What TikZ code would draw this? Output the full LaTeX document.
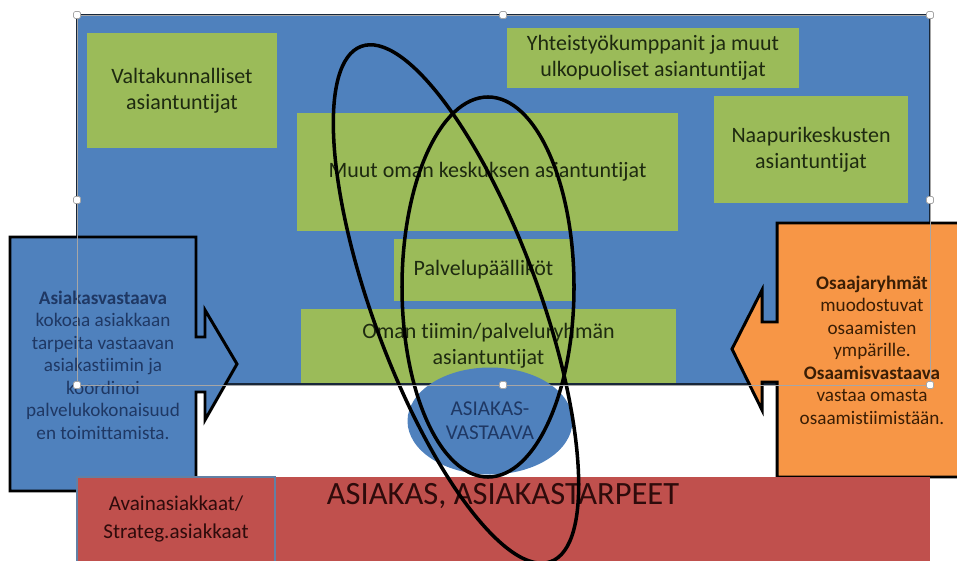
\documentclass[tikz,border=0pt]{standalone}
\usepackage{fontspec}
\setmainfont{Carlito}[Ligatures=NoCommon]
\usetikzlibrary{shapes.geometric}

\definecolor{offblue}{HTML}{4F81BD}
\definecolor{offgreen}{HTML}{9BBB59}
\definecolor{offorange}{HTML}{F79646}
\definecolor{offred}{HTML}{C0504D}
\definecolor{greentext}{HTML}{1E2A10}
\definecolor{navytext}{HTML}{1F3864}
\definecolor{browntext}{HTML}{3A1E05}
\definecolor{redtext}{HTML}{2E0B0B}
\definecolor{selgrey}{HTML}{A6A6A6}

\tikzset{
  greenbox/.style={fill=offgreen, text=greentext, align=center, inner sep=0pt,
    font=\fontsize{12.5}{15}\selectfont},
  callout/.style={draw=black, line width=1.7pt, line join=miter},
  sidetext/.style={align=center, font=\fontsize{10.9}{12.8}\selectfont},
  ring/.style={draw=black, line width=2pt},
  handle/.style={draw=selgrey, fill=white, minimum size=1.4mm, inner sep=0pt,
    rounded corners=0.3mm},
}

\begin{document}
\begin{tikzpicture}[x=0.2mm, y=-0.2mm]

\useasboundingbox (0,0) rectangle (957,561);
\clip (0,0) rectangle (957,561);

% keskus
\draw[fill=offblue, draw=black!70!offblue, line width=0.8pt] (77,15) rectangle (930,384);

\node[greenbox, minimum width=38mm, minimum height=23mm] (valtak) at (182,90.5)
  {Valtakunnalliset\\asiantuntijat};
\node[greenbox, minimum width=58.4mm, minimum height=12mm] (yhteis) at (653,58)
  {Yhteistyökumppanit ja muut\\ulkopuoliset asiantuntijat};
\node[greenbox, minimum width=38.8mm, minimum height=21.4mm] (naapuri) at (811,149.5)
  {Naapurikeskusten\\asiantuntijat};
\node[greenbox, minimum width=76.2mm, minimum height=23.6mm] (muut) at (487.5,172)
  {Muut oman keskuksen asiantuntijat};
\node[greenbox, minimum width=35.8mm, minimum height=12.4mm] (palvelu) at (483.5,270)
  {Palvelupäälliköt};
\node[greenbox, minimum width=75mm, minimum height=14.8mm] (tiimi) at (488.5,346)
  {Oman tiimin/palveluryhmän\\asiantuntijat};

% nuolet
\draw[callout, fill=offblue] (10,237) -- (196,237) -- (196,337) -- (205,337) -- (205,310)
  -- (237,364) -- (205,420) -- (205,392) -- (196,392) -- (196,491) -- (10,491) -- cycle;
\node[sidetext, text=navytext] (vastaava) at (103,365)
  {\textbf{Asiakasvastaava}\\kokoaa asiakkaan\\tarpeita vastaavan\\asiakastiimin ja\\koordinoi\\palvelukokonaisuud\\en toimittamista.};

\draw[callout, fill=offorange] (967,223) -- (777,223) -- (777,322) -- (762,322) -- (762,290)
  -- (732,349) -- (762,410) -- (762,382) -- (777,382) -- (777,477) -- (967,477) -- cycle;
\node[sidetext, text=browntext] (osaajat) at (872,350)
  {\textbf{Osaajaryhmät}\\muodostuvat\\osaamisten\\ympärille.\\\textbf{Osaamisvastaava}\\vastaa omasta\\osaamistiimistään.};

% asiakas
\fill[offred] (77,477) rectangle (930,575);
\draw[fill=offred, draw=offblue!60!gray, line width=0.8pt] (77,477) rectangle (275,575);
\node[align=center, text=redtext, font=\fontsize{12}{16}\selectfont] (avain) at (176,519)
  {Avainasiakkaat/\\Strateg.asiakkaat};
\node[text=redtext, font=\fontsize{18.5}{22}\selectfont] (asiakas) at (503,496)
  {ASIAKAS, ASIAKASTARPEET};

\node[ellipse, fill=offblue, minimum width=33mm, minimum height=21.4mm, inner sep=0pt,
  align=center, text=navytext, font=\fontsize{12}{13.6}\selectfont] (asvast) at (490,421)
  {ASIAKAS-\\VASTAAVA};

% renkaat
\draw[ring, rotate around={20.2:(456,304)}] (456,304) ellipse [x radius=16.6mm, y radius=54.9mm];
\draw[ring] (488,287) ellipse [x radius=17.2mm, y radius=38mm];

% valinta
\draw[selgrey, line width=0.4pt] (77,15) rectangle (930,385);
\foreach \hx/\hy [count=\i] in {77/15, 503/15, 930/15, 77/200, 930/200, 77/385, 503/385, 930/385}
  \node[handle] (h\i) at (\hx,\hy) {};

\end{tikzpicture}
\end{document}
